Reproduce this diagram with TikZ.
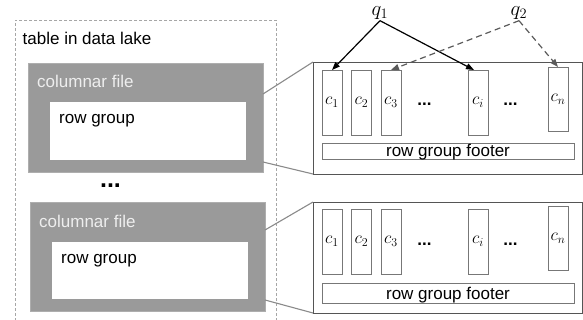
\documentclass[tikz,border=0pt]{standalone}
\usepackage{fontspec}
\setmainfont{Liberation Sans}
\usetikzlibrary{calc,arrows.meta}
\definecolor{filegray}{HTML}{9A9A9A}
\definecolor{filetext}{HTML}{EEEEEE}
\definecolor{linegray}{HTML}{8A8A8A}
\definecolor{boxgray}{HTML}{555555}
\definecolor{dashgray}{HTML}{5A5A5A}
\begin{document}
\begin{tikzpicture}[x=1pt,y=-1pt,
  font=\fontsize{17}{20}\selectfont,
  rect/.style={inner sep=0pt, outer sep=0pt, anchor=north west},
  lakebox/.style={rect, draw=gray!70, line width=0.8pt, dash pattern=on 3pt off 2pt},
  filebox/.style={rect, fill=filegray, draw=filegray!80!white, line width=0.6pt, minimum width=235, minimum height=109},
  rgbox/.style={rect, fill=white, minimum width=196, minimum height=58},
  detail/.style={rect, draw=boxgray, line width=0.9pt, minimum width=269, minimum height=111},
  colbox/.style={inner sep=0pt, outer sep=0pt, draw=boxgray!80, line width=0.7pt, minimum width=20, minimum height=65, font=\fontsize{18}{20}\selectfont},
  footbox/.style={rect, draw=boxgray!80, line width=0.7pt, minimum width=252, minimum height=16},
  txt/.style={inner sep=0pt, anchor=base west},
  coldots/.style={inner sep=0pt, anchor=base, font=\fontsize{17}{20}\selectfont\bfseries},
  qlabel/.style={inner sep=1pt, font=\fontsize{20}{22}\selectfont},
  link/.style={draw=linegray, line width=1.1pt},
  q1arrow/.style={draw=black, line width=1.2pt, -{Triangle[length=8pt,width=6pt]}},
  q2arrow/.style={draw=dashgray, line width=1.2pt, dash pattern=on 6pt off 4pt, -{Triangle[length=8pt,width=6pt]}}
]
\useasboundingbox (0,0) rectangle (583,320);

% data lake
\node[lakebox, minimum width=261, minimum height=330] (lake) at (15,20) {};
\node[txt] (title) at (22.5,45) {table in data lake};

% columnar files
\node[filebox] (cf1) at (28,63) {};
\node[rgbox] (rg1) at (50,102) {};
\node[txt, text=filetext] (cft1) at (37,88) {columnar file};
\node[txt] (rgt1) at (59,124) {row group};

\node[coldots, font=\fontsize{25}{27}\selectfont\bfseries] (vdots) at (110.5,188) {...};

\node[filebox] (cf2) at (30,202) {};
\node[rgbox, minimum height=57] (rg2) at (52,242) {};
\node[txt, text=filetext] (cft2) at (39,228) {columnar file};
\node[txt] (rgt2) at (61,263) {row group};

% detail boxes
\node[detail, minimum height=112] (d1) at (313,62) {};
\node[detail] (d2) at (313,202) {};

% columns box 1
\node[colbox, anchor=north] (a1) at (332,70) {$c_1$};
\node[colbox, anchor=north] (a2) at (361.5,70) {$c_2$};
\node[colbox, anchor=north] (a3) at (391,70) {$c_3$};
\node[coldots] (adots1) at (424.5,106) {...};
\node[colbox, anchor=north] (ai) at (478,70) {$c_i$};
\node[coldots] (adots2) at (510.5,106) {...};
\node[colbox, anchor=north, minimum height=64] (an) at (558,67) {$c_n$};
\node[footbox] (f1) at (322,143) {};
\node[inner sep=0pt, anchor=base] (ft1) at (448,157) {row group footer};

% columns box 2
\node[colbox, anchor=north] (b1) at (332,209) {$c_1$};
\node[colbox, anchor=north] (b2) at (361.5,209) {$c_2$};
\node[colbox, anchor=north] (b3) at (391,209) {$c_3$};
\node[coldots] (bdots1) at (424.5,245) {...};
\node[colbox, anchor=north] (bi) at (478,209) {$c_i$};
\node[coldots] (bdots2) at (510.5,245) {...};
\node[colbox, anchor=north, minimum height=64] (bn) at (558,206) {$c_n$};
\node[footbox, minimum height=20] (f2) at (322,283) {};
\node[inner sep=0pt, anchor=base] (ft2) at (448,299) {row group footer};

% zoom links
\draw[link] ($(cf1.north east)+(0,31)$) -- (d1.north west);
\draw[link] ($(cf1.north east)+(0,99)$) -- (d1.south west);
\draw[link] ($(cf2.north east)+(0,28)$) -- (d2.north west);
\draw[link] ($(cf2.north east)+(0,98)$) -- (d2.south west);

% queries
\node[qlabel] (q1) at (380,13) {$q_1$};
\node[qlabel] (q2) at (519,13) {$q_2$};
\draw[q1arrow] (q1.south) -- (a1.north);
\draw[q1arrow] (q1.south) -- ($(ai.north)+(-4,0)$);
\draw[q2arrow] (q2.south) -- (a3.north);
\draw[q2arrow] (q2.south) -- (an.north);
\end{tikzpicture}
\end{document}
